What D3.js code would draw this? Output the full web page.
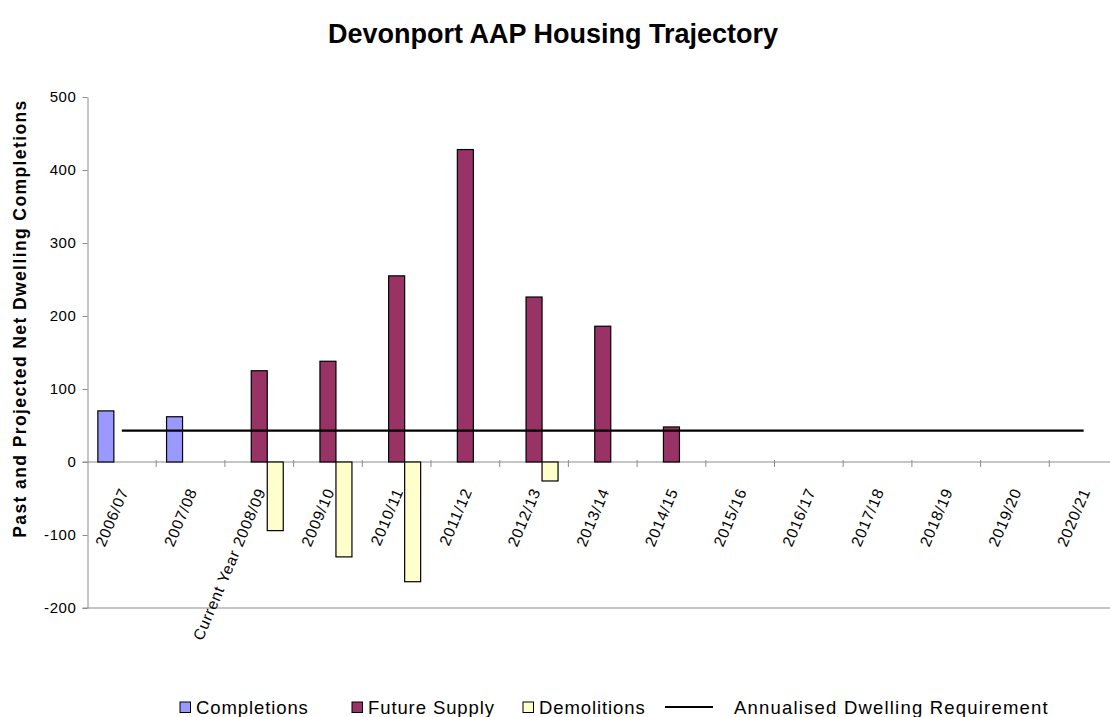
<!DOCTYPE html>
<html><head><meta charset="utf-8">
<script src="https://cdn.jsdelivr.net/npm/d3@7"></script>
<style>
body{margin:0;background:#fff}
svg{display:block;font-family:"Liberation Sans",Arial,sans-serif}
</style></head><body>
<svg id="chart" width="1110" height="717"></svg>
<script>
const categories=["2006/07","2007/08","Current Year 2008/09","2009/10","2010/11","2011/12","2012/13","2013/14","2014/15","2015/16","2016/17","2017/18","2018/19","2019/20","2020/21"];
const completions=[70,62,null,null,null,null,null,null,null,null,null,null,null,null,null];
const futureSupply=[null,null,125,138,255,428,226,186,48,null,null,null,null,null,null];
const demolitions=[null,null,-94,-130,-164,null,-26,null,null,null,null,null,null,null,null];
const requirement=[43,43,43,43,43,43,43,43,43,43,43,43,43,43,43];
const yTicks=[-200,-100,0,100,200,300,400,500];
const seriesNames=["Completions","Future Supply","Demolitions"];
const seriesColors=["#9999FF","#993366","#FFFFCC"];
const lineName="Annualised Dwelling Requirement";
const title="Devonport AAP Housing Trajectory";
const yTitle="Past and Projected Net Dwelling Completions";

const svg=d3.select("#chart");
const axisGray="#8c8c8c";
const left=87.5, step=68.7;
const x=d3.scaleBand().domain(categories).range([left,left+step*categories.length]).padding(0);
const xs=d3.scaleBand().domain(seriesNames).range([0,x.bandwidth()]).paddingInner(0).paddingOuter(0.647);
const y=d3.scaleLinear().domain([-200,500]).range([608,97]);

// title
svg.append("text").attr("x",553).attr("y",43).attr("text-anchor","middle")
  .attr("font-size",27).attr("font-weight","bold").text(title);

// y title
svg.append("text").attr("transform",`translate(26,${(95+542)/2}) rotate(-90)`)
  .attr("text-anchor","middle").attr("font-size",17.5).attr("font-weight","bold")
  .attr("letter-spacing",1.4).text(yTitle);

// left axis
const ya=svg.append("g").attr("transform",`translate(${left},0)`)
  .call(d3.axisLeft(y).tickValues(yTicks).tickFormat(d=>String(d)).tickSize(5).tickPadding(6).tickSizeOuter(0));
ya.select(".domain").attr("stroke",axisGray);
ya.selectAll(".tick line").attr("stroke",axisGray);
ya.selectAll(".tick text").attr("font-size",15).attr("font-family","Liberation Sans, Arial, sans-serif").attr("fill","#000").attr("letter-spacing",0.6);

// bottom border line at -200
svg.append("line").attr("x1",left-5).attr("x2",1110).attr("y1",y(-200)).attr("y2",y(-200)).attr("stroke",axisGray);

// zero axis line
svg.append("line").attr("x1",left-5).attr("x2",1110).attr("y1",y(0)).attr("y2",y(0)).attr("stroke",axisGray);
// category boundary ticks
svg.append("g").selectAll("line").data(categories.slice(1)).join("line")
  .attr("x1",d=>x(d)).attr("x2",d=>x(d)).attr("y1",y(0)-2).attr("y2",y(0)+5).attr("stroke",axisGray);

// bars
const allSeries=[completions,futureSupply,demolitions];
allSeries.forEach((vals,si)=>{
  svg.append("g").selectAll("rect").data(categories.map((c,i)=>({c,v:vals[i]})).filter(d=>d.v!=null))
    .join("rect")
    .attr("x",d=>x(d.c)+xs(seriesNames[si]))
    .attr("width",xs.bandwidth())
    .attr("y",d=>y(Math.max(0,d.v)))
    .attr("height",d=>Math.abs(y(d.v)-y(0)))
    .attr("fill",seriesColors[si]).attr("stroke","#000").attr("stroke-width",1.2);
});

// requirement line
const line=d3.line().x((d,i)=>x(categories[i])+x.bandwidth()/2).y(d=>y(d));
svg.append("path").datum(requirement).attr("d",line).attr("fill","none").attr("stroke","#000").attr("stroke-width",2.2);

// x labels
svg.append("g").selectAll("text").data(categories).join("text")
  .attr("transform",d=>`translate(${x(d)+x.bandwidth()/2+2},${y(0)+27}) rotate(-67)`)
  .attr("text-anchor","end").attr("dy","0.35em").attr("font-size",15.5).attr("letter-spacing",0.8)
  .text(d=>d);

// legend
const legendItems=[
  {name:seriesNames[0],color:seriesColors[0],type:"box",x:180},
  {name:seriesNames[1],color:seriesColors[1],type:"box",x:352},
  {name:seriesNames[2],color:seriesColors[2],type:"box",x:523},
  {name:lineName,type:"line",x:665}
];
const lg=svg.append("g");
legendItems.forEach(it=>{
  if(it.type==="box"){
    lg.append("rect").attr("x",it.x).attr("y",702).attr("width",10.5).attr("height",10.5)
      .attr("fill",it.color).attr("stroke","#000").attr("stroke-width",1);
    lg.append("text").attr("x",it.x+16).attr("y",714).attr("font-size",18.5).attr("letter-spacing",0.9).text(it.name);
  } else {
    lg.append("line").attr("x1",it.x).attr("x2",it.x+48).attr("y1",707).attr("y2",707).attr("stroke","#000").attr("stroke-width",2);
    lg.append("text").attr("x",it.x+69).attr("y",714).attr("font-size",18.5).attr("letter-spacing",1.2).text(it.name);
  }
});
</script>
</body></html>
